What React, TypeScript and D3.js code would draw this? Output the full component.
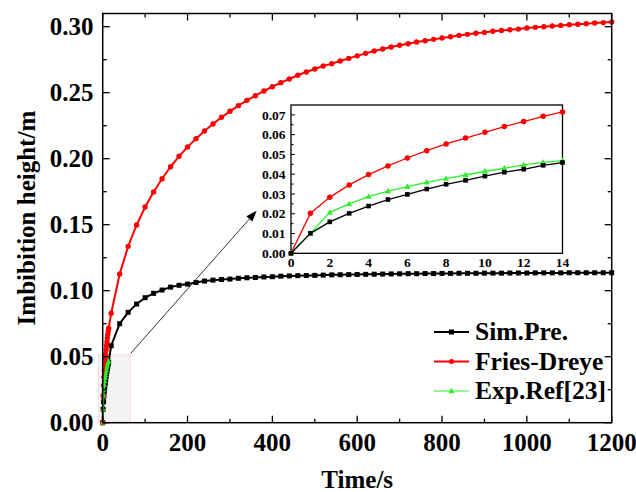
import React from "react";
import * as d3 from "d3";

// Early time steps (s), shared by all three series and the zoomed panel
const earlyTimes = [0, 1, 2, 3, 4, 5, 6, 7, 8, 9, 10, 11, 12, 13, 14];
const simEarly = [0, 0.0101, 0.0159, 0.0202, 0.0239, 0.0272, 0.0298, 0.0325, 0.0349, 0.0369, 0.039, 0.041, 0.0425, 0.0445, 0.0459];
const fdEarly = [0, 0.0202, 0.0283, 0.0346, 0.0398, 0.0442, 0.0482, 0.0519, 0.0553, 0.0583, 0.0612, 0.0641, 0.0666, 0.0693, 0.0715];
const expEarly = [0, 0.0101, 0.0207, 0.025, 0.0287, 0.0314, 0.0337, 0.0359, 0.0378, 0.0396, 0.0415, 0.043, 0.0447, 0.046, 0.0469];

// Later time steps (s)
const lateTimes = [
  20, 40, 60, 80, 100, 120, 140, 160, 180, 200,
  220, 240, 260, 280, 300, 320, 340, 360, 380, 400,
  420, 440, 460, 480, 500, 520, 540, 560, 580, 600,
  620, 640, 660, 680, 700, 720, 740, 760, 780, 800,
  820, 840, 860, 880, 900, 920, 940, 960, 980, 1000,
  1020, 1040, 1060, 1080, 1100, 1120, 1140, 1160, 1180, 1200,
];
const simLate = [
  0.0583, 0.075, 0.0836, 0.0899, 0.0947, 0.098, 0.1005, 0.1027, 0.1041, 0.105,
  0.1062, 0.1073, 0.108, 0.1085, 0.1088, 0.1094, 0.1098, 0.11, 0.1104, 0.1106,
  0.111, 0.1112, 0.1114, 0.1115, 0.1116, 0.1118, 0.112, 0.1121, 0.1122, 0.1123,
  0.1124, 0.1125, 0.1126, 0.1127, 0.1128, 0.1129, 0.1129, 0.113, 0.113, 0.1131,
  0.1131, 0.1132, 0.1132, 0.1132, 0.1133, 0.1133, 0.1133, 0.1134, 0.1134, 0.1134,
  0.1135, 0.1135, 0.1135, 0.1135, 0.1136, 0.1136, 0.1136, 0.1136, 0.1136, 0.1136,
];
const fdLate = [
  0.0829, 0.1127, 0.1336, 0.1498, 0.1634, 0.1748, 0.1848, 0.1939, 0.2018, 0.2089,
  0.2152, 0.221, 0.2263, 0.2314, 0.2359, 0.2402, 0.2442, 0.2477, 0.2513, 0.2545,
  0.2576, 0.2604, 0.2632, 0.2657, 0.268, 0.2702, 0.272, 0.274, 0.276, 0.2779,
  0.2798, 0.2816, 0.2831, 0.2846, 0.2859, 0.2871, 0.2884, 0.2894, 0.2904, 0.2914,
  0.2924, 0.2934, 0.2942, 0.295, 0.2957, 0.2965, 0.2972, 0.2977, 0.2982, 0.299,
  0.2995, 0.3, 0.3005, 0.301, 0.3015, 0.3018, 0.3023, 0.3028, 0.3031, 0.3036,
];

const mainXTicks = [0, 200, 400, 600, 800, 1000, 1200];
const mainXMinor = [100, 300, 500, 700, 900, 1100];
const mainYTicks = [0, 0.05, 0.1, 0.15, 0.2, 0.25, 0.3];
const mainYMinor = [0.025, 0.075, 0.125, 0.175, 0.225, 0.275];
const insetXTicks = [0, 2, 4, 6, 8, 10, 12, 14];
const insetYTicks = [0, 0.01, 0.02, 0.03, 0.04, 0.05, 0.06, 0.07];
const insetYMinor = [0.005, 0.015, 0.025, 0.035, 0.045, 0.055, 0.065];

const legendLabels = ["Sim.Pre.", "Fries-Dreye", "Exp.Ref[23]"];

const RED = "#ff0000";
const BLACK = "#000000";
const GREEN = "#2bf02b";
const FONT = "'Liberation Serif', 'Times New Roman', serif";

type Pt = [number, number];
const zip = (xs: number[], ys: number[]): Pt[] => xs.map((x, i) => [x, ys[i]]);

function Marker({ kind, x, y, color, s }: { kind: string; x: number; y: number; color: string; s: number }) {
  if (kind === "square") return <rect x={x - s / 2} y={y - s / 2} width={s} height={s} fill={color} />;
  if (kind === "circle") return <circle cx={x} cy={y} r={s / 2} fill={color} />;
  const h = s * 0.95;
  return (
    <path
      d={`M${x},${y - h * 0.6} L${x + s / 2},${y + h * 0.4} L${x - s / 2},${y + h * 0.4} Z`}
      fill={color}
    />
  );
}

function Series({
  pts, x, y, color, kind, lw, ms,
}: {
  pts: Pt[]; x: d3.ScaleLinear<number, number>; y: d3.ScaleLinear<number, number>;
  color: string; kind: string; lw: number; ms: number;
}) {
  const line = d3.line<Pt>().x((d) => x(d[0])).y((d) => y(d[1]));
  return (
    <g>
      <path d={line(pts) || ""} fill="none" stroke={color} strokeWidth={lw} strokeLinejoin="round" />
      {pts.map((d, i) => (
        <Marker key={i} kind={kind} x={x(d[0])} y={y(d[1])} color={color} s={ms} />
      ))}
    </g>
  );
}

export default function App() {
  const W = 636;
  const H = 492;

  // main axes
  const x = d3.scaleLinear().domain([0, 1200]).range([102.7, 611.7]);
  const y = d3.scaleLinear().domain([0, 0.31]).range([422.7, 13.5]);

  // zoomed panel axes
  const ix = d3.scaleLinear().domain([0, 14]).range([291, 562.5]);
  const iy = d3.scaleLinear().domain([0, 0.075]).range([253.3, 105]);

  const simAll = zip(earlyTimes.concat(lateTimes), simEarly.concat(simLate));
  const fdAll = zip(earlyTimes.concat(lateTimes), fdEarly.concat(fdLate));
  const expAll = zip(earlyTimes, expEarly);

  const [x0, x1] = x.range();
  const [y0, y1] = y.range();

  // highlighted early region and pointer to the zoomed panel
  const regX0 = x(-10), regX1 = x(65), regY = y(0.0515);
  const arrowStart: Pt = [x(66), y(0.0525)];
  const arrowEnd: Pt = [x(363), y(0.1606)];
  const ang = Math.atan2(arrowEnd[1] - arrowStart[1], arrowEnd[0] - arrowStart[0]);
  const ahL = 11, ahW = 4;
  const headBase: Pt = [arrowEnd[0] - ahL * Math.cos(ang), arrowEnd[1] - ahL * Math.sin(ang)];
  const head = `M${arrowEnd[0]},${arrowEnd[1]} L${headBase[0] + ahW * Math.sin(ang)},${headBase[1] - ahW * Math.cos(ang)} L${headBase[0] - ahW * Math.sin(ang)},${headBase[1] + ahW * Math.cos(ang)} Z`;

  const legendKinds = [
    { color: BLACK, kind: "square", lw: 2, ms: 5 },
    { color: RED, kind: "circle", lw: 2, ms: 5 },
    { color: GREEN, kind: "triangle", lw: 1, ms: 6 },
  ];

  return (
    <svg
      width={W}
      height={H}
      style={{ position: "absolute", left: 0, top: 0, background: "#fff" }}
      fontFamily={FONT}
      fontWeight="bold"
    >
      <rect x={0} y={0} width={W} height={H} fill="#fff" />

      {/* highlighted region */}
      <rect x={regX0} y={regY} width={regX1 - regX0} height={y0 - regY} fill="#f4f4f4" stroke="#f9dcdc" strokeWidth={1} />

      {/* main series */}
      <Series pts={simAll} x={x} y={y} color={BLACK} kind="square" lw={2} ms={5} />
      <Series pts={fdAll} x={x} y={y} color={RED} kind="circle" lw={2} ms={5.4} />
      <Series pts={expAll} x={x} y={y} color={GREEN} kind="triangle" lw={1.5} ms={5} />

      {/* main frame */}
      <rect x={x0} y={y1} width={x1 - x0} height={y0 - y1} fill="none" stroke="#000" strokeWidth={1.5} />

      {/* main ticks on all four sides */}
      {mainXTicks.map((t) => (
        <g key={"xt" + t}>
          <line x1={x(t)} x2={x(t)} y1={y0} y2={y0 - 7} stroke="#000" strokeWidth={1.3} />
          <line x1={x(t)} x2={x(t)} y1={y1} y2={y1 + 7} stroke="#000" strokeWidth={1.3} />
          <text x={x(t)} y={451} textAnchor="middle" fontSize={25}>{t}</text>
        </g>
      ))}
      {mainXMinor.map((t) => (
        <g key={"xm" + t}>
          <line x1={x(t)} x2={x(t)} y1={y0} y2={y0 - 4} stroke="#000" strokeWidth={1.3} />
          <line x1={x(t)} x2={x(t)} y1={y1} y2={y1 + 4} stroke="#000" strokeWidth={1.3} />
        </g>
      ))}
      {mainYTicks.map((v) => (
        <g key={"yt" + v}>
          <line x1={x0} x2={x0 + 7} y1={y(v)} y2={y(v)} stroke="#000" strokeWidth={1.3} />
          <line x1={x1} x2={x1 - 7} y1={y(v)} y2={y(v)} stroke="#000" strokeWidth={1.3} />
          <text x={93.5} y={y(v)} dy="0.35em" textAnchor="end" fontSize={25}>{d3.format(".2f")(v)}</text>
        </g>
      ))}
      {mainYMinor.map((v) => (
        <g key={"ym" + v}>
          <line x1={x0} x2={x0 + 4} y1={y(v)} y2={y(v)} stroke="#000" strokeWidth={1.3} />
          <line x1={x1} x2={x1 - 4} y1={y(v)} y2={y(v)} stroke="#000" strokeWidth={1.3} />
        </g>
      ))}

      {/* axis titles */}
      <text x={(x0 + x1) / 2} y={488} textAnchor="middle" fontSize={25}>Time/s</text>
      <text transform={`translate(35,${(y0 + y1) / 2}) rotate(-90)`} textAnchor="middle" fontSize={25}>
        Imbibition height/m
      </text>

      {/* pointer */}
      <line x1={arrowStart[0]} y1={arrowStart[1]} x2={headBase[0]} y2={headBase[1]} stroke="#000" strokeWidth={0.8} />
      <path d={head} fill="#000" />

      {/* zoomed panel */}
      <g>
        <rect x={ix(0)} y={iy(0.075)} width={ix(14) - ix(0)} height={iy(0) - iy(0.075)} fill="#fff" stroke="#000" strokeWidth={1.3} />
        <Series pts={zip(earlyTimes, fdEarly)} x={ix} y={iy} color={RED} kind="circle" lw={1.3} ms={5.5} />
        <Series pts={zip(earlyTimes, expEarly)} x={ix} y={iy} color={GREEN} kind="triangle" lw={1.3} ms={6} />
        <Series pts={zip(earlyTimes, simEarly)} x={ix} y={iy} color={BLACK} kind="square" lw={1.3} ms={4.6} />
        {insetYTicks.map((v) => (
          <g key={"iy" + v}>
            <line x1={ix(0)} x2={ix(0) + 4} y1={iy(v)} y2={iy(v)} stroke="#000" strokeWidth={1} />
            <text x={285.5} y={iy(v)} dy="0.35em" textAnchor="end" fontSize={13.5}>{d3.format(".2f")(v)}</text>
          </g>
        ))}
        {insetYMinor.map((v) => (
          <line key={"iym" + v} x1={ix(0)} x2={ix(0) + 2.5} y1={iy(v)} y2={iy(v)} stroke="#000" strokeWidth={1} />
        ))}
        {insetXTicks.map((t) => (
          <text key={"ix" + t} x={ix(t)} y={266.5} textAnchor="middle" fontSize={13.5}>{t}</text>
        ))}
      </g>

      {/* legend */}
      {legendLabels.map((label, i) => {
        const ly = 332 + i * 29.5;
        const k = legendKinds[i];
        return (
          <g key={label}>
            <line x1={434} x2={469} y1={ly} y2={ly} stroke={k.color} strokeWidth={k.lw} />
            <Marker kind={k.kind} x={451.5} y={ly} color={k.color} s={k.ms} />
            <text x={475} y={ly} dy="0.33em" fontSize={25.5}>{label}</text>
          </g>
        );
      })}
    </svg>
  );
}
